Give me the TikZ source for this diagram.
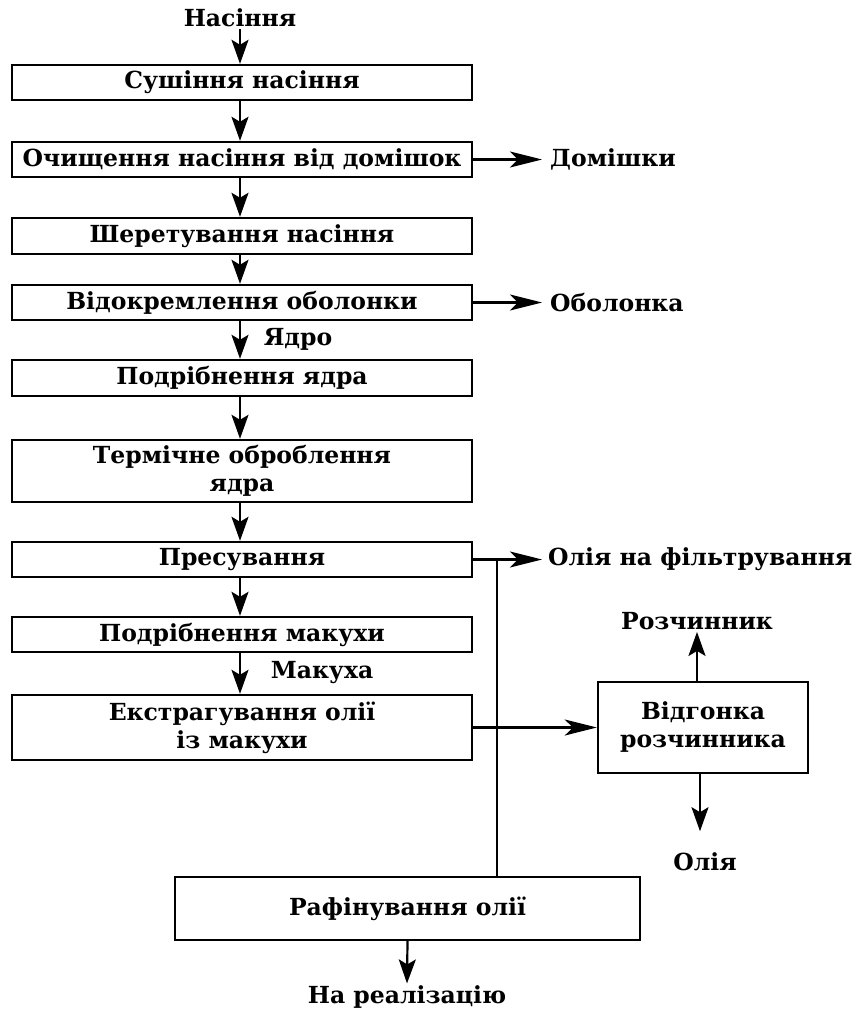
\documentclass[tikz,border=0pt]{standalone}
\usepackage{fontspec}
\setmainfont{DejaVu Serif}
\usetikzlibrary{arrows.meta}
\begin{document}
\begin{tikzpicture}[x=1pt,y=-1pt,
  every node/.style={font=\bfseries\fontsize{23.5}{28}\selectfont},
  proc/.style={draw,line width=2.4pt,minimum width=460pt,minimum height=35pt,inner sep=0pt,align=center},
  lbl/.style={inner sep=2pt,align=center},
  flow/.style={line width=2.2pt,-{Stealth[length=24pt,width=17pt,inset=5pt]}},
  hflow/.style={line width=2.2pt,-{Stealth[length=32pt,width=16pt,inset=8pt]}},
  plain/.style={line width=2.2pt}]
\useasboundingbox (0,0) rectangle (861,1009);
\node[lbl] (seed) at (240,18) {Насіння};
\node[proc] (b1) at (242,82.5) {Сушіння насіння};
\node[proc] (b2) at (242,159.5) {Очищення насіння від домішок};
\node[proc,minimum height=36pt] (b3) at (242,236) {Шеретування насіння};
\node[proc] (b4) at (242,302.5) {Відокремлення оболонки};
\node[proc,minimum height=36pt] (b5) at (242,378) {Подрібнення ядра};
\node[proc,minimum height=62pt] (b6) at (242,471) {Термічне оброблення\\ядра};
\node[proc] (b7) at (242,559.5) {Пресування};
\node[proc] (b8) at (242,634.5) {Подрібнення макухи};
\node[proc,minimum height=65pt] (b9) at (242,727.5) {Екстрагування олії\\із макухи};
\node[proc,minimum width=210pt,minimum height=91pt] (b10) at (703,727.5) {Відгонка\\розчинника};
\node[proc,minimum width=465pt,minimum height=63pt] (b11) at (407.5,908.5) {Рафінування олії};
\node[lbl,anchor=west,inner sep=0pt] (dom) at (550,159.5) {Домішки};
\node[lbl,anchor=west,inner sep=0pt] (obo) at (550,302.5) {Оболонка};
\node[lbl,anchor=west,inner sep=0pt] (filt) at (548,559.5) {Олія на фільтрування};
\node[lbl] (rozch) at (697,621) {Розчинник};
\node[lbl] (olia) at (705,862) {Олія};
\node[lbl] (real) at (407,997) {На реалізацію};
\node[lbl] (yadro) at (298,339) {Ядро};
\node[lbl] (makuha) at (322,673) {Макуха};
\coordinate (J) at (497,559.5);
\draw[flow] ([xshift=-2pt]b1.north |- seed.south) -- ([xshift=-2pt]b1.north);
\draw[flow] ([xshift=-2pt]b1.south) -- ([xshift=-2pt]b2.north);
\draw[flow] ([xshift=-2pt]b2.south) -- ([xshift=-2pt]b3.north);
\draw[flow] ([xshift=-2pt]b3.south) -- ([xshift=-2pt]b4.north);
\draw[flow] ([xshift=-2pt]b4.south) -- ([xshift=-2pt]b5.north);
\draw[flow] ([xshift=-2pt]b5.south) -- ([xshift=-2pt]b6.north);
\draw[flow] ([xshift=-2pt]b6.south) -- ([xshift=-2pt]b7.north);
\draw[flow] ([xshift=-2pt]b7.south) -- ([xshift=-2pt]b8.north);
\draw[flow] ([xshift=-2pt]b8.south) -- ([xshift=-2pt]b9.north);
\draw[hflow] (b2.east) -- ([xshift=-8pt]dom.west);
\draw[hflow] (b4.east) -- ([xshift=-8pt]obo.west);
\draw[hflow] (b7.east) -- ([xshift=-6pt]filt.west);
\draw[plain] (J) -- (J |- b11.north);
\draw[hflow] (b9.east) -- (b10.west);
\draw[flow] ([xshift=-6pt]b10.north) -- ([xshift=-6pt]b10.north |- rozch.south);
\draw[flow] ([xshift=-3pt]b10.south) -- ++(0,57);
\draw[flow] (b11.south) -- (real.north);
\end{tikzpicture}
\end{document}
